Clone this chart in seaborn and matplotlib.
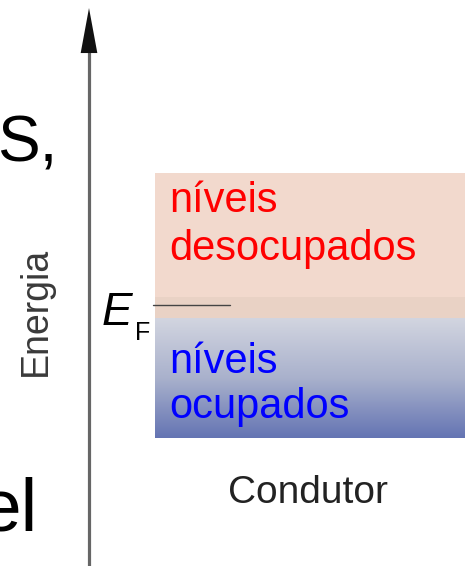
import numpy as np
import matplotlib.pyplot as plt
import seaborn as sns
from matplotlib.colors import LinearSegmentedColormap

# Energy scale: 0 = bottom of the occupied band, 1 unit = height of that band
band_left, band_right = 155, 465           # horizontal extent of the conductor box
occupied = (0.0, 1.0)                       # bottom, top
unoccupied = (1.0, 2.21)                    # bottom, top
overlap = (1.0, 1.175)                      # darker strip around the Fermi level
fermi_level = 1.108
fermi_line_x = [153, 230]

occupied_lines = ["níveis", "ocupados"]
unoccupied_lines = ["níveis", "desocupados"]
occupied_baselines = [0.542, 0.167]
unoccupied_baselines = [1.883, 1.483]

# figure limits in energy units
y_min, y_max = -1.067, 3.65
arrow_tip = 3.583

sns.set_theme(style="white")
plt.rcParams['font.family'] = ['Liberation Sans', 'DejaVu Sans']

fig = plt.figure(figsize=(4.72, 5.66), dpi=100)
ax = fig.add_axes([0, 0, 1, 1])

# --- bands ---
center = (band_left + band_right) / 2
width = band_right - band_left
ax.bar(center, unoccupied[1] - unoccupied[0], bottom=unoccupied[0], width=width,
       color='#f2d9cd', edgecolor='none')
ax.bar(center, overlap[1] - overlap[0], bottom=overlap[0], width=width,
       color='#e9d2c5', edgecolor='none')

blue_cmap = LinearSegmentedColormap.from_list('occ', ['#6474b3', '#a9b1cc', '#d2d5e0'])
grad = np.linspace(0, 1, 256).reshape(-1, 1)
ax.imshow(grad, extent=[band_left, band_right, occupied[0], occupied[1]],
          cmap=blue_cmap, aspect='auto', origin='lower', zorder=2)

# Fermi level line
sns.lineplot(x=fermi_line_x, y=[fermi_level, fermi_level], color='#444444',
             linewidth=1.0, ax=ax, zorder=3)

# --- energy axis arrow ---
ax.plot([89, 89], [y_min, arrow_tip - 0.2], color='#666666', lw=2.3, solid_capstyle='butt')
ax.annotate("", xy=(89, arrow_tip), xytext=(89, arrow_tip - 0.375),
            arrowprops=dict(arrowstyle="-|>,head_length=1.62,head_width=0.3",
                            color='#111111', lw=0, shrinkA=0, shrinkB=0,
                            mutation_scale=20))

# --- labels ---
for txt, yb in zip(unoccupied_lines, unoccupied_baselines):
    ax.text(169, yb, txt, color='#ff0000', fontsize=30, va='baseline', ha='left', zorder=4)
for txt, yb in zip(occupied_lines, occupied_baselines):
    ax.text(169, yb, txt, color='#0000ff', fontsize=30, va='baseline', ha='left', zorder=4)

ax.text(102, 0.942, "E", fontsize=33, style='italic', va='baseline', ha='left', color='black')
ax.text(135, 0.817, "F", fontsize=18, va='baseline', ha='left', color='black')

ax.text(36, 1.058, "Energia", rotation=90, fontsize=27, color='#3a3a3a',
        ha='center', va='center')
ax.text(308, -0.542, "Condutor", fontsize=28, color='#222222', ha='center', va='baseline')

# fragments of slide text at the left edge
ax.text(-3, 2.3, "S,", fontsize=46, color='black', ha='left', va='baseline')
ax.text(38, -0.767, "el", fontsize=54, color='black', ha='right', va='baseline')

ax.set_xlim(0, 472)
ax.set_ylim(y_min, y_max)
ax.axis('off')

plt.savefig('out.png', dpi=100)
